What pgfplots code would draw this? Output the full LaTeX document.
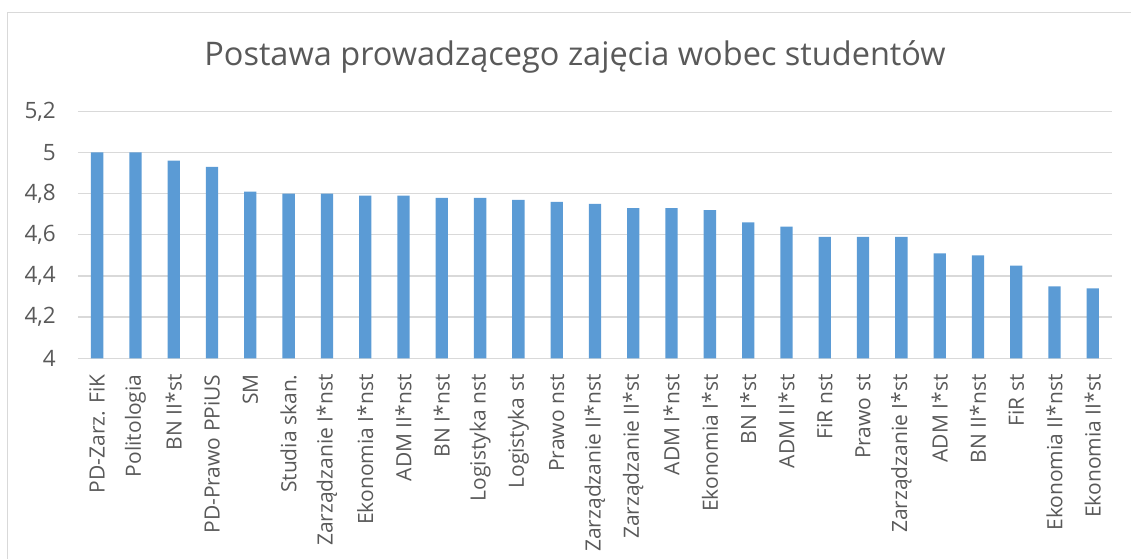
\documentclass[border=0pt]{standalone}
\usepackage{pgfplots}
\pgfplotsset{compat=1.18}
\usepackage{fontspec}
\setmainfont{Open Sans}
\definecolor{barblue}{HTML}{5B9BD5}
\definecolor{gridgray}{HTML}{D9D9D9}
\definecolor{txtgray}{HTML}{595959}
\begin{document}
\begin{tikzpicture}[x=1pt,y=1pt]
\useasboundingbox (0,0) rectangle (1131,558);
\draw[gridgray,line width=1.5pt] (7.5,-20) -- (7.5,545.3) -- (1150,545.3);
\node[anchor=base,text=txtgray,font=\fontsize{32.5}{38}\selectfont] at (575,492) {Postawa prowadzącego zajęcia wobec studentów};
\begin{axis}[
  at={(78pt,199.7pt)}, anchor=south west,
  scale only axis, width=1034pt, height=247pt,
  ybar, bar width=12.3pt,
  xmin=-0.5, xmax=26.5, ymin=4, ymax=5.2,
  ytick={4,4.2,4.4,4.6,4.8,5,5.2},
  xtick={0,...,26},
  xticklabels={PD-Zarz. FiK,Politologia,BN II*st,PD-Prawo PPiUS,SM,Studia skan.,Zarządzanie I*nst,Ekonomia I*nst,ADM II*nst,BN I*nst,Logistyka nst,Logistyka st,Prawo nst,Zarządzanie II*nst,Zarządzanie II*st,ADM I*nst,Ekonomia I*st,BN I*st,ADM II*st,FiR nst,Prawo st,Zarządzanie I*st,ADM I*st,BN II*nst,FiR st,Ekonomia II*nst,Ekonomia II*st},
  axis line style={draw=none},
  major tick length=0pt,
  ymajorgrids, grid style={gridgray,line width=1.3pt},
  /pgf/number format/assume math mode=true,
  /pgf/number format/use comma,
  yticklabel style={anchor=east,inner sep=0pt,text=txtgray,font=\fontsize{22.5}{26}\selectfont},
  yticklabel shift=22pt,
  xticklabel style={rotate=90,anchor=east,inner sep=0pt,text=txtgray,font=\fontsize{21}{25}\selectfont},
  xticklabel shift=16pt,
  clip=false,
]
\addplot[fill=barblue,draw=none] coordinates {
(0,5.00) (1,5.00) (2,4.96) (3,4.93) (4,4.81) (5,4.80) (6,4.80) (7,4.79) (8,4.79)
(9,4.78) (10,4.78) (11,4.77) (12,4.76) (13,4.75) (14,4.73) (15,4.73) (16,4.72)
(17,4.66) (18,4.64) (19,4.59) (20,4.59) (21,4.59) (22,4.51) (23,4.50) (24,4.45)
(25,4.35) (26,4.34)};
\end{axis}
\end{tikzpicture}
\end{document}
